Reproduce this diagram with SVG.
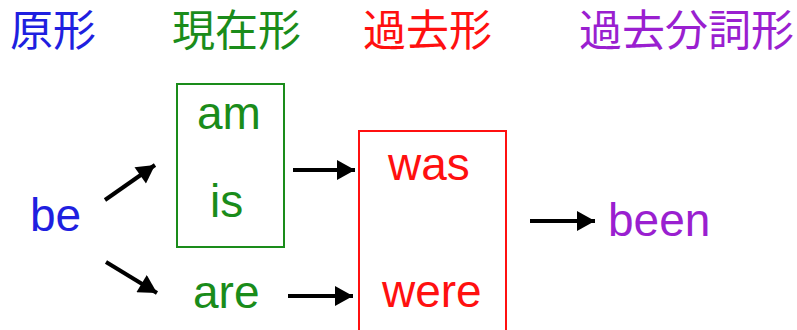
<svg xmlns="http://www.w3.org/2000/svg" width="797" height="330" viewBox="0 0 797 330">
<defs>
<style>
.h{font-family:"Noto Sans CJK JP","Noto Sans CJK SC",sans-serif;font-size:43px}
.w{font-family:"Liberation Sans",Arial,sans-serif;font-size:46px}
.blue{fill:#1f1fe0}
.green{fill:#1a8c1a}
.red{fill:#ff1010}
.purple{fill:#9a1fd0}
.conn line{stroke:#000;stroke-width:4;marker-end:url(#ah)}
</style>
<marker id="ah" markerUnits="userSpaceOnUse" markerWidth="20" markerHeight="20" viewBox="0 0 18 20" refX="18" refY="10" orient="auto">
<path d="M0,0 L18,10 L0,20 z" fill="#000"/>
</marker>
</defs>
<rect width="797" height="330" fill="#fff"/>
<g id="headers">
<text class="h blue" x="10" y="46">原形</text>
<text class="h green" x="172" y="46">現在形</text>
<text class="h red" x="363" y="46">過去形</text>
<text class="h purple" x="579" y="46">過去分詞形</text>
</g>
<g id="node-be"><text class="w blue" x="30" y="231">be</text></g>
<g id="node-present">
<rect x="177" y="84" width="107" height="163" fill="none" stroke="#1a8c1a" stroke-width="2"/>
<text class="w green" x="197" y="129">am</text>
<text class="w green" x="210" y="217">is</text>
</g>
<g id="node-are"><text class="w green" x="193" y="308">are</text></g>
<g id="node-past">
<rect x="359" y="131" width="147" height="210" fill="none" stroke="#ff1010" stroke-width="2"/>
<text class="w red" x="388" y="180">was</text>
<text class="w red" x="382" y="307">were</text>
</g>
<g id="node-been"><text class="w purple" x="608" y="236">been</text></g>
<g id="connectors" class="conn">
<line x1="105" y1="200" x2="155" y2="165"/>
<line x1="106" y1="262" x2="157" y2="293"/>
<line x1="293" y1="170" x2="355" y2="170"/>
<line x1="288" y1="296" x2="353" y2="296"/>
<line x1="530" y1="221" x2="595" y2="221"/>
</g>
</svg>
